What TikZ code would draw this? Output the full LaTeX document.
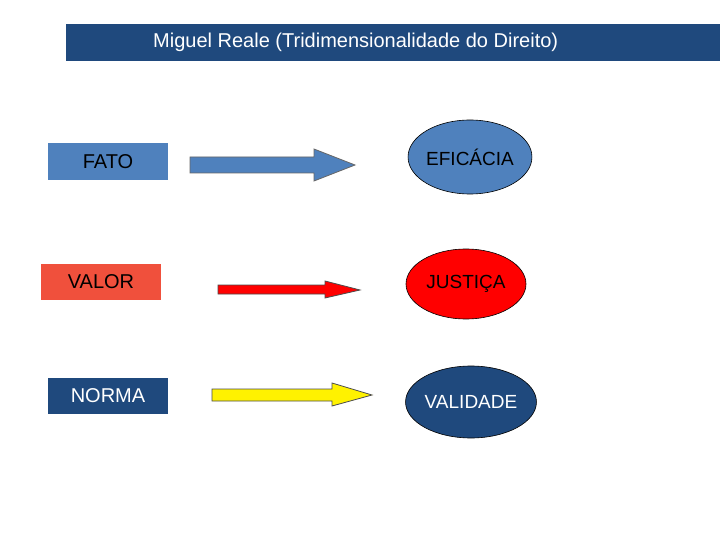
\documentclass[tikz,border=0pt]{standalone}
\usepackage{fontspec}
\setmainfont{Liberation Sans}
\usetikzlibrary{shapes.geometric}
\definecolor{tblue}{HTML}{1F497D}
\definecolor{lblue}{HTML}{4F81BD}
\definecolor{vred}{HTML}{F0503C}
\tikzset{
  box/.style={minimum width=120pt,minimum height=37pt,inner sep=0pt,font=\fontsize{20}{24}\selectfont},
  ell/.style={ellipse,draw=black,line width=0.6pt,inner sep=0pt,font=\fontsize{19}{23}\selectfont},
  barrow/.style={draw=black!60,line width=0.8pt}
}
\begin{document}
\begin{tikzpicture}[x=1pt,y=-1pt]
\useasboundingbox (0,0) rectangle (720,540);
\fill[white] (0,0) rectangle (720,540);
\node[fill=tblue,minimum width=654pt,minimum height=37pt,inner sep=0pt,anchor=north west,text=white,font=\fontsize{20}{24}\selectfont] (title) at (66,24) {\hspace*{-75pt}Miguel Reale (Tridimensionalidade do Direito)};
\node[box,fill=lblue] (fato) at (108,162) {FATO};
\node[box,fill=vred,minimum height=36pt] (valor) at (101,282) {VALOR};
\node[box,fill=tblue,text=white,minimum height=36pt] (norma) at (108,396) {NORMA};
\node[ell,fill=lblue,minimum width=116pt,minimum height=74pt] (efi) at (470,157) {EFICÁCIA};
\node[ell,fill=red,minimum width=120pt,minimum height=70pt] (jus) at (466,284) {JUSTIÇA};
\node[ell,fill=tblue,text=white,minimum width=120pt,minimum height=72pt] (val) at (471,402) {VALIDADE};
\draw[barrow,fill=lblue] (190,157) -- (314,157) -- (314,149) -- (355,165) -- (314,181) -- (314,173) -- (190,173) -- cycle;
\draw[barrow,draw=black!70,fill=red] (218,285) -- (325,285) -- (325,281) -- (360,290) -- (325,298) -- (325,294) -- (218,294) -- cycle;
\draw[barrow,draw=black!70,fill=yellow] (212,389) -- (332,389) -- (332,383) -- (372,395) -- (332,406) -- (332,401) -- (212,401) -- cycle;
\end{tikzpicture}
\end{document}
